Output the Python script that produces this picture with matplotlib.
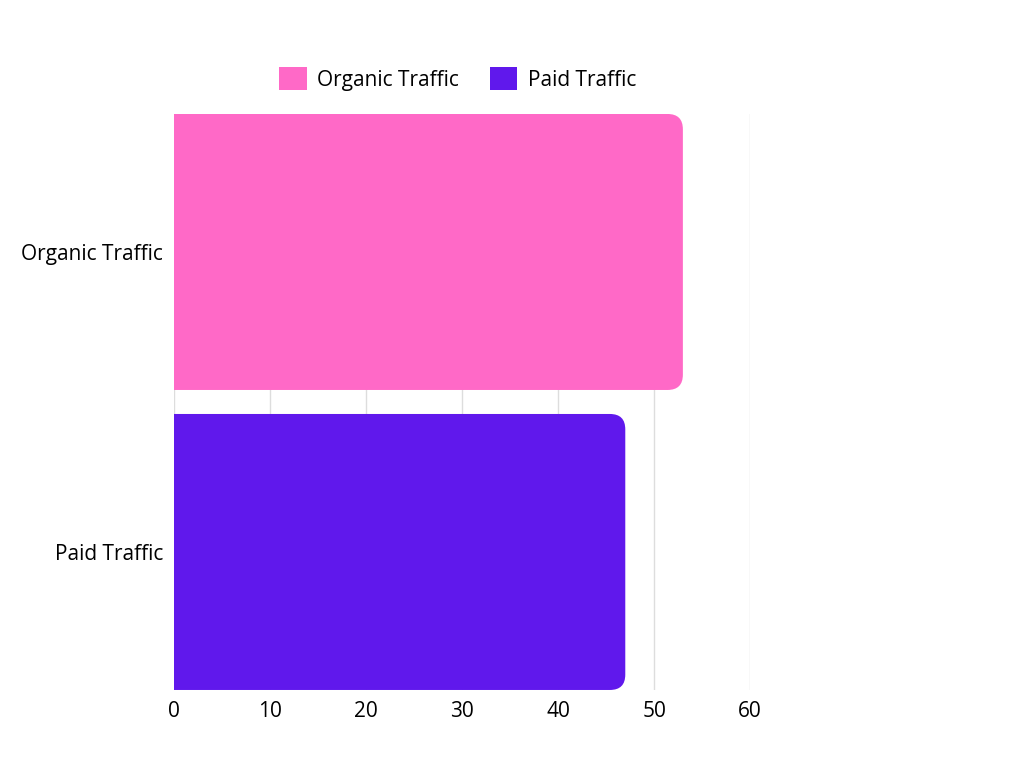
import matplotlib
matplotlib.use("Agg")
import matplotlib.pyplot as plt
from matplotlib.patches import FancyBboxPatch, Patch

categories = ["Organic Traffic", "Paid Traffic"]
values = [53, 47]
colors = ["#FF69C7", "#6018EC"]
xticks = [0, 10, 20, 30, 40, 50, 60]

plt.rcParams['font.family'] = ['Open Sans', 'DejaVu Sans']
fig = plt.figure(figsize=(10.24, 7.68), dpi=100)
ax = fig.add_axes([0.17, 0.1016, 0.5625, 0.75])
ax.set_xlim(0, 60)
ax.set_ylim(1.96, 0.04)
ypos = [0.5, 1.5]
h = 0.92
aspect = (1/300) / (1/9.6)
for y, v, c in zip(ypos, values, colors):
    p = FancyBboxPatch((-5, y - h/2), v + 5, h,
                       boxstyle="round,pad=0,rounding_size=1.6",
                       mutation_aspect=aspect, fc=c, ec="none", zorder=2)
    p.set_clip_path(ax.patch)
    ax.add_patch(p)
ax.set_yticks(ypos)
ax.set_yticklabels(categories, fontsize=15)
ax.set_xticks(xticks)
ax.set_xticklabels([str(t) for t in xticks], fontsize=15)
ax.tick_params(length=0, pad=8)
ax.grid(axis='x', color='#dddddd', lw=1, zorder=0)
for s in ax.spines.values():
    s.set_visible(False)
handles = [Patch(fc=c, label=l) for c, l in zip(colors, categories)]
fig.legend(handles=handles, loc='center', bbox_to_anchor=(0.447, 0.897), ncol=2,
           frameon=False, fontsize=15, handlelength=1.3, handleheight=1.3,
           columnspacing=1.5, handletextpad=0.5)
fig.savefig("out.png", dpi=100)
